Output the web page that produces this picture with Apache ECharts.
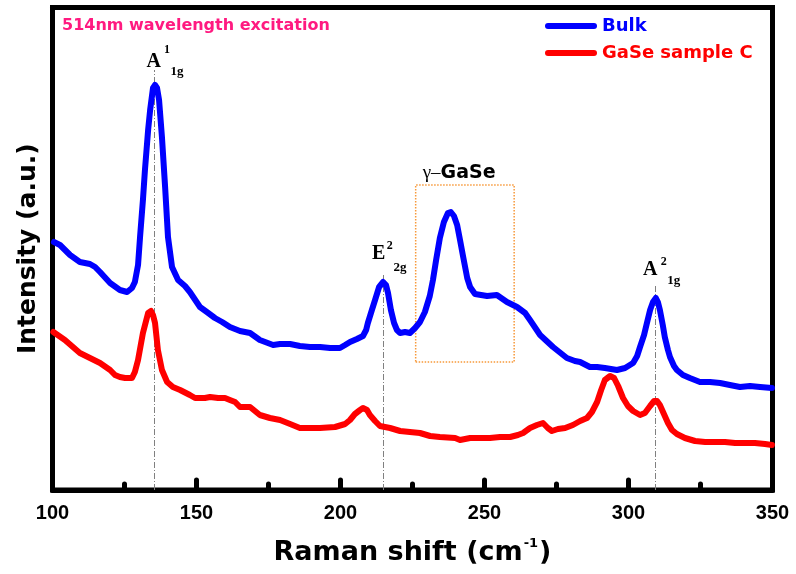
<!DOCTYPE html>
<html><head><meta charset="utf-8">
<script src="https://cdn.jsdelivr.net/npm/echarts@6/dist/echarts.min.js"></script>
<style>html,body{margin:0;padding:0;background:#fff}#c{width:796px;height:574px}</style>
</head><body><div id="c"></div>
<script>
// ---- data (Raman shift in cm^-1, intensity in arbitrary units) ----
const ramanBulk = [100.5,102.6,106.1,109.5,113.0,114.8,116.5,120.0,123.4,125.9,
127.6,128.6,129.7,130.4,131.4,132.1,133.2,133.9,134.9,135.6,
136.3,137.0,138.0,139.1,140.1,141.5,143.6,146.0,147.7,151.2,
153.6,156.4,158.9,161.6,165.1,168.6,172.0,176.6,179.0,182.5,
185.9,189.4,192.9,196.4,199.8,201.6,203.3,205.7,207.8,208.9,
209.5,210.9,212.0,213.4,214.8,215.8,216.5,217.5,218.6,219.6,
220.7,222.4,224.1,225.9,227.6,229.3,231.0,232.1,233.2,234.5,
235.9,237.3,238.3,239.4,240.5,241.5,242.6,244.0,245.0,246.7,
250.9,254.3,257.8,261.3,264.1,265.8,269.3,273.8,278.6,281.4,
283.2,286.6,289.1,291.8,296.0,298.8,301.6,303.0,304.0,305.4,
306.4,307.5,308.5,309.5,310.2,310.9,311.9,312.6,313.7,314.4,
315.8,316.8,318.9,321.3,324.8,328.3,331.8,335.2,338.7,342.2,
345.7,349.8];
const intensityBulk = [248,245,235,228,226,223,218,207,200,198,
202,208,225,253,290,320,360,380,402,405,
402,390,353,303,253,223,210,204,198,183,
178,172,168,163,159,157,150,145,146,146,
144,143,143,142,142,145,148,151,154,160,
167,180,190,203,208,205,197,180,167,160,
157,158,157,162,168,178,194,210,230,252,
268,277,278,274,265,250,233,212,203,196,
194,195,188,183,177,170,155,143,132,129,
128,123,123,122,120,122,127,134,143,155,
167,180,188,192,188,180,165,153,140,133,
124,120,115,112,108,108,107,105,103,104,
103,102];
const ramanSampleC = [100.3,104.3,109.5,113.0,116.5,120.0,121.7,123.4,125.2,127.6,
128.6,129.7,131.4,133.2,134.2,134.9,135.6,136.6,138.0,139.8,
141.8,144.3,147.7,149.5,152.9,154.7,157.5,159.9,161.6,163.4,
165.1,168.6,172.0,175.5,179.0,182.5,185.9,189.4,192.9,198.1,
201.6,203.3,205.0,206.8,207.8,209.2,210.2,212.0,213.7,217.2,
220.7,224.1,227.6,231.1,234.5,239.8,241.5,245.0,248.4,251.9,
255.4,258.9,261.6,263.4,265.8,268.2,270.3,272.0,273.4,275.5,
278.0,280.7,283.2,285.6,287.3,289.1,290.5,291.8,293.6,295.0,
296.4,298.1,299.8,301.6,304.0,305.7,307.5,308.9,309.9,310.9,
312.3,313.7,315.1,316.8,319.6,323.1,326.6,330.0,333.5,337.0,
340.5,343.9,347.4,349.8];
const intensitySampleC = [158,150,137,132,127,120,115,113,112,112,
118,130,157,177,179,175,167,140,120,108,
103,100,95,92,92,93,92,92,90,88,
83,83,75,72,70,66,62,62,62,63,
66,70,76,80,82,80,75,69,64,62,
59,58,57,54,53,52,50,52,52,52,
53,53,55,57,62,65,67,62,59,61,
62,65,69,72,78,88,100,110,114,112,
104,92,84,79,75,77,84,89,89,85,
76,67,60,56,52,49,48,48,48,47,
47,47,46,45];
const seriesNames = ['Bulk','GaSe sample C'];
const xTickValues = [100,150,200,250,300,350];
// Raman mode markers
const peakShift = [135.2, 214.9, 309.2];
const peakLineTop = [420, 217, 204];
const peakMain = ['A','E','A'];
const peakSup = ['1','2','2'];
const peakSub = ['1g','2g','1g'];
// gamma-GaSe region box
const boxShift = [226.1, 260.3];
const boxIntensity = [128, 305];
const titleText = '514nm wavelength excitation';
const boxLabel = ['γ–','GaSe'];

// ---- chart ----
const SANS = '"DejaVu Sans", "Liberation Sans", sans-serif';
const SERIF = '"Liberation Serif", "DejaVu Serif", serif';
const chart = echarts.init(document.getElementById('c'));
const capsule = 'path://M3,0L49,0A3,3,0,0,1,49,6L3,6A3,3,0,0,1,3,0Z';

const option = {
  animation: false,
  backgroundColor: '#fff',
  title: {
    text: titleText, left: 62, top: 18, padding: 0,
    textStyle: {color: '#ff1a80', fontFamily: SANS, fontWeight: 'bold', fontSize: 16}
  },
  legend: {
    orient: 'vertical', left: 545, top: 16, padding: 0, itemGap: 7,
    itemWidth: 52, itemHeight: 6, icon: capsule,
    textStyle: {fontFamily: SANS, fontWeight: 'bold', fontSize: 18, lineHeight: 20},
    data: [
      {name: seriesNames[0], textStyle: {color: '#0000ff'}},
      {name: seriesNames[1], textStyle: {color: '#ff0000'}}
    ]
  },
  grid: {left: 52.5, right: 23.5, top: 7.5, bottom: 84, show: true, borderColor: '#000', borderWidth: 5},
  xAxis: {
    type: 'value', min: xTickValues[0], max: xTickValues[xTickValues.length - 1], interval: 50,
    axisLine: {show: true, onZero: false, lineStyle: {color: '#000', width: 5}},
    axisTick: {show: true, inside: true, length: 10, lineStyle: {color: '#000', width: 5, cap: 'round'}},
    minorTick: {show: true, splitNumber: 2, length: 6, lineStyle: {color: '#000', width: 5, cap: 'round'}},
    splitLine: {show: false},
    axisLabel: {color: '#000', fontFamily: '"Liberation Sans", Arial, sans-serif', fontWeight: 'bold', fontSize: 20, margin: 13},
    name: '{m|Raman shift (cm}{s|-1}{m|)}',
    nameLocation: 'middle', nameGap: 47,
    nameTextStyle: {
      color: '#000', fontFamily: SANS, fontWeight: 'bold', fontSize: 27,
      rich: {
        m: {fontFamily: SANS, fontWeight: 'bold', fontSize: 27, lineHeight: 32, color: '#000'},
        s: {fontFamily: SANS, fontWeight: 'bold', fontSize: 13, lineHeight: 14, verticalAlign: 'top', color: '#000', padding: [0, 1, 0, 1]}
      }
    }
  },
  yAxis: {
    type: 'value', min: 0, max: 482.5,
    axisLine: {show: true, lineStyle: {color: '#000', width: 5}},
    axisTick: {show: false}, axisLabel: {show: false}, splitLine: {show: false},
    name: 'Intensity (a.u.)', nameLocation: 'middle', nameRotate: 90, nameGap: 12,
    nameTextStyle: {color: '#000', fontFamily: SANS, fontWeight: 'bold', fontSize: 25}
  },
  series: [
    {
      name: seriesNames[0], type: 'line', showSymbol: false, symbol: 'none', z: 3,
      data: ramanBulk.map((x, i) => [x, intensityBulk[i]]),
      lineStyle: {color: '#0000ff', width: 6, cap: 'round', join: 'round'},
      itemStyle: {color: '#0000ff'},
      markLine: {
        silent: true, z: 1, symbol: ['none', 'none'], label: {show: false},
        lineStyle: {color: '#808080', width: 1, type: [6, 2, 1, 2]},
        data: peakShift.map((x, i) => [{coord: [x, 0]}, {coord: [x, peakLineTop[i]]}])
      },
      markArea: {
        silent: true,
        itemStyle: {color: 'rgba(0,0,0,0)', borderColor: '#f7993a', borderWidth: 1.5, borderType: 'dotted'},
        data: [[{coord: [boxShift[0], boxIntensity[0]]}, {coord: [boxShift[1], boxIntensity[1]]}]]
      }
    },
    {
      name: seriesNames[1], type: 'line', showSymbol: false, symbol: 'none', z: 3,
      data: ramanSampleC.map((x, i) => [x, intensitySampleC[i]]),
      lineStyle: {color: '#ff0000', width: 6, cap: 'round', join: 'round'},
      itemStyle: {color: '#ff0000'}
    }
  ]
};
chart.setOption(option);

// annotation text placed relative to library-computed pixel positions
const labelOffsets = [
  {main: [-7.5, -8.3], sup: [10, -20], sub: [16.5, 1.5]},
  {main: [-11.5, -19.2], sup: [3.4, -27.2], sub: [10, -5]},
  {main: [-12, -16], sup: [5.7, -24.4], sub: [12.3, -5.2]}
];
const graphics = [];
function txt(x, y, text, font) {
  return {type: 'text', x: x, y: y, silent: true, z: 10,
    style: {text: text, font: font, fill: '#000', align: 'left', verticalAlign: 'middle',
            textAlign: 'left', textVerticalAlign: 'middle'}};
}
peakShift.forEach((s, i) => {
  const p = chart.convertToPixel({gridIndex: 0}, [s, peakLineTop[i]]);
  const o = labelOffsets[i];
  graphics.push(txt(p[0] + o.main[0], p[1] + o.main[1], peakMain[i], 'bold 20px ' + SERIF));
  graphics.push(txt(p[0] + o.sup[0], p[1] + o.sup[1], peakSup[i], 'bold 12px ' + SERIF));
  graphics.push(txt(p[0] + o.sub[0], p[1] + o.sub[1], peakSub[i], 'bold 13px ' + SERIF));
});
const bp = chart.convertToPixel({gridIndex: 0}, [boxShift[0], boxIntensity[1]]);
graphics.push({type: 'text', x: bp[0] + 7, y: bp[1] - 11.5, silent: true, z: 10,
  style: {text: '{g|' + boxLabel[0] + '}{b|' + boxLabel[1] + '}', fill: '#000',
    align: 'left', verticalAlign: 'middle', textAlign: 'left', textVerticalAlign: 'middle',
    rich: {g: {font: '19px ' + SERIF, fill: '#000'}, b: {font: 'bold 19px ' + SANS, fill: '#000'}}}});
chart.setOption({graphic: graphics});
</script></body></html>
